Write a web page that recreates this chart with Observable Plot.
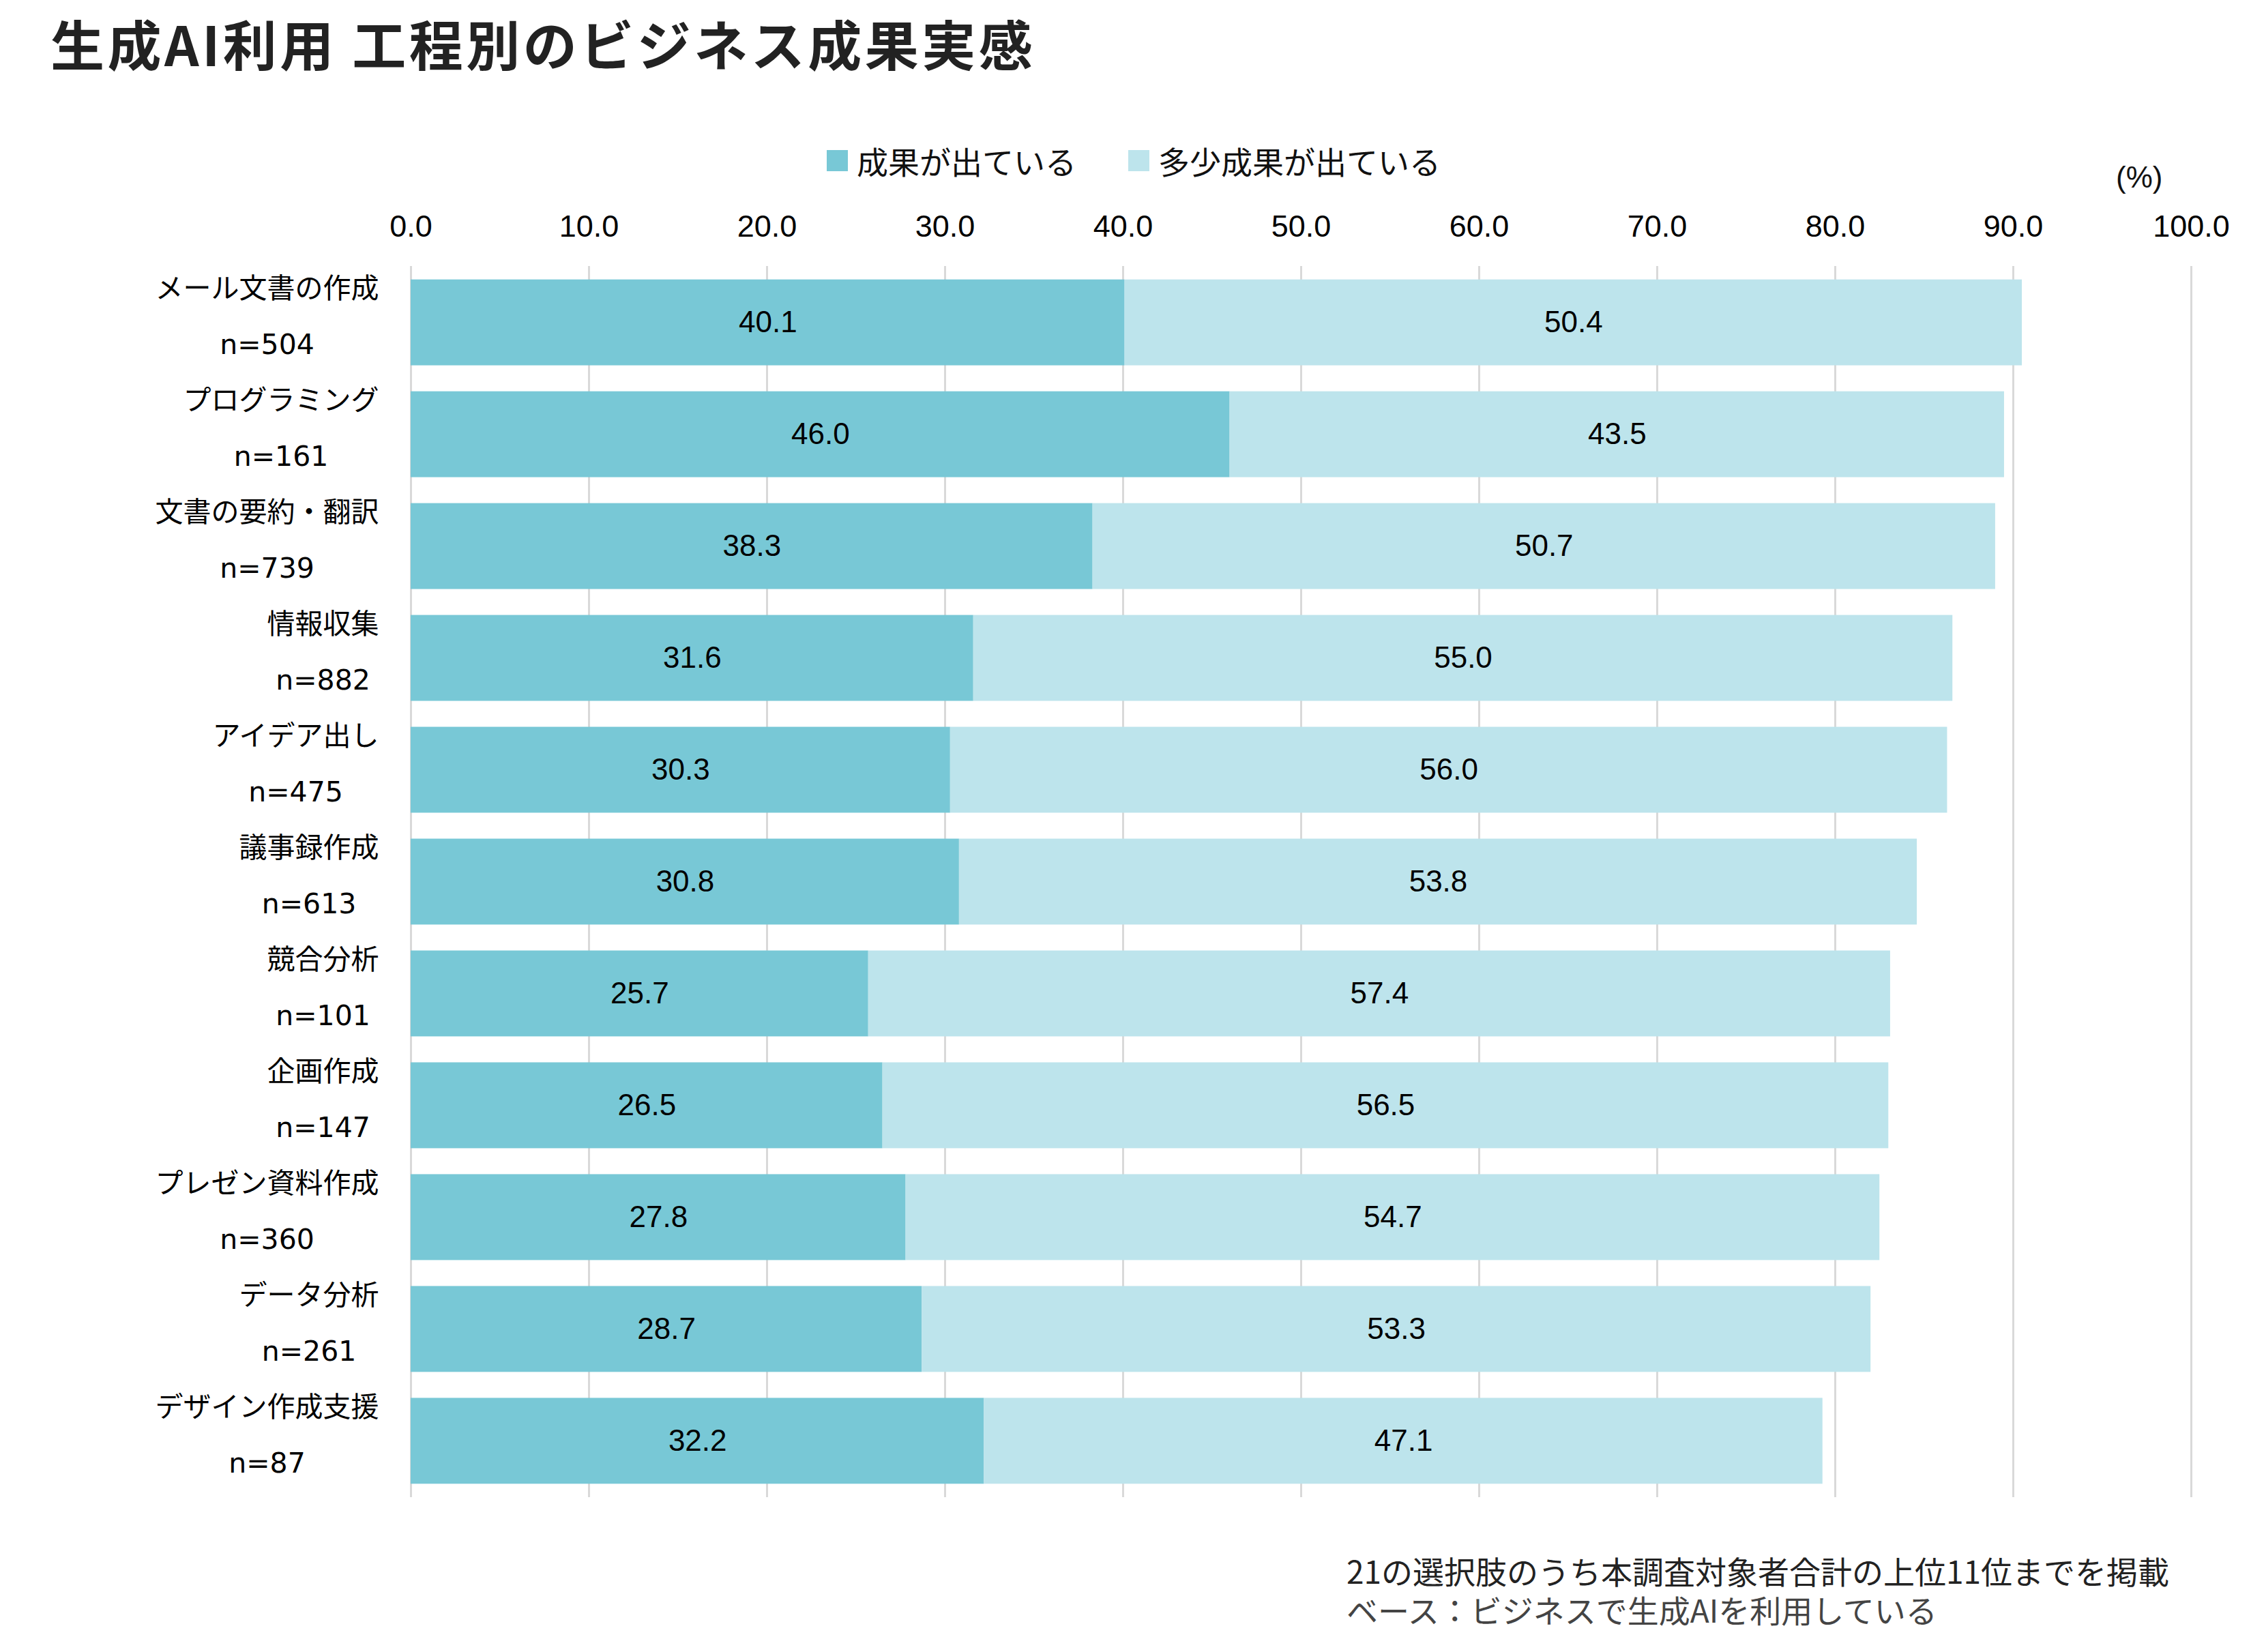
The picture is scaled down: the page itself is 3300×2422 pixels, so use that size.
<!DOCTYPE html>
<html><head><meta charset="utf-8">
<script src="https://cdn.jsdelivr.net/npm/d3@7"></script>
<script src="https://cdn.jsdelivr.net/npm/@observablehq/plot@0.6"></script>
<style>
html,body{margin:0;padding:0;background:#fff;}
body{width:3300px;height:2422px;position:relative;overflow:hidden;font-family:"Noto Sans CJK JP","Noto Sans",sans-serif;}
#title{position:absolute;left:74px;top:23px;font-size:79px;font-weight:700;line-height:1;color:#222;white-space:nowrap;letter-spacing:4.5px;z-index:2;}
#legend{position:absolute;left:1212px;top:210px;height:50px;display:flex;align-items:center;font-size:46px;line-height:1;color:#111;z-index:2;}
#legend .item{display:flex;align-items:center;margin-right:76px;}
#legend .sw{width:31px;height:31px;display:inline-block;margin-right:13px;}
#unit{position:absolute;left:3102px;top:238px;font-family:"Liberation Sans",Arial,sans-serif;font-size:44px;line-height:1;color:#111;z-index:2;}
#chart{position:absolute;left:0;top:280px;z-index:1;}
#caption{position:absolute;left:1974px;top:2274px;font-size:46px;line-height:57px;white-space:nowrap;}
</style>
</head><body>
<div id="title"></div>
<div id="legend"></div>
<div id="unit"></div>
<div id="chart"></div>
<div id="caption"></div>
<script>
const titleText = "生成AI利用 工程別のビジネス成果実感";
const unitText = "(%)";
const captionLines = ["21の選択肢のうち本調査対象者合計の上位11位までを掲載", "ベース：ビジネスで生成AIを利用している"];
const categories = ["メール文書の作成","プログラミング","文書の要約・翻訳","情報収集","アイデア出し","議事録作成","競合分析","企画作成","プレゼン資料作成","データ分析","デザイン作成支援"];
const nValues = [504,161,739,882,475,613,101,147,360,261,87];
const seriesNames = ["成果が出ている","多少成果が出ている"];
const achieved = [40.1,46.0,38.3,31.6,30.3,30.8,25.7,26.5,27.8,28.7,32.2];
const somewhat = [50.4,43.5,50.7,55.0,56.0,53.8,57.4,56.5,54.7,53.3,47.1];
const colors = ["#78C8D6","#BDE4EC"];
const xTicks = [0,10,20,30,40,50,60,70,80,90,100];

document.getElementById("title").textContent = titleText;
document.getElementById("unit").textContent = unitText;
const leg = document.getElementById("legend");
seriesNames.forEach((s,i)=>{
  const it = document.createElement("div"); it.className="item";
  const sw = document.createElement("span"); sw.className="sw"; sw.style.background=colors[i];
  const tx = document.createElement("span"); tx.textContent = s;
  it.append(sw,tx); leg.append(it);
});
const cap = document.getElementById("caption");
captionLines.forEach((l,i)=>{const d=document.createElement("div"); d.textContent=l; d.style.color = i===0?"#222":"#444"; cap.append(d);});

const rows = categories.flatMap((c,i)=>[
  {cat:c, series:seriesNames[0], value:achieved[i]},
  {cat:c, series:seriesNames[1], value:somewhat[i]}
]);
const labelRows = categories.map((c,i)=>({cat:c, label:`${c}\nn=${nValues[i]}`}));

const chart = Plot.plot({
  width:3300, height:1935,
  marginTop:110, marginBottom:20, marginLeft:602, marginRight:88,
  style:{background:"transparent", fontFamily:"'Liberation Sans', Arial, sans-serif", fontSize:"45px", color:"#000", overflow:"visible"},
  x:{domain:[0,100]},
  y:{type:"band", domain:categories, paddingInner:0.232, paddingOuter:0.12, round:false, axis:null},
  color:{domain:seriesNames, range:colors},
  marks:[
    Plot.gridX(xTicks,{stroke:"#d9d9d9", strokeOpacity:1, strokeWidth:3}),
    Plot.barX(rows,{y:"cat", x:"value", fill:"series"}),
    Plot.text(rows, Plot.stackX({y:"cat", x:"value", text:d=>d.value.toFixed(1), fontSize:44, fill:"#000", fontFamily:"'Liberation Sans', Arial, sans-serif"})),
    Plot.axisX(xTicks,{anchor:"top", tickSize:0, tickPadding:44, tickFormat:d=>d.toFixed(1), fontSize:45, label:null, fill:"#000"}),
    Plot.text(labelRows,{y:"cat", text:"label", frameAnchor:"left", dx:-47, dy:-21, textAnchor:"middle", lineHeight:2.0, fontSize:41, fontFamily:"'DejaVu Sans', 'Noto Sans CJK JP', sans-serif", fill:"#000"})
  ]
});
document.getElementById("chart").append(chart);
chart.querySelectorAll('text').forEach(t=>{
  if (!/n=\d+$/.test(t.textContent)) return;
  const w = t.getBBox().width;
  t.setAttribute("transform", (t.getAttribute("transform")||"") + ` translate(${-w/2},0)`);
});
</script>
</body></html>
